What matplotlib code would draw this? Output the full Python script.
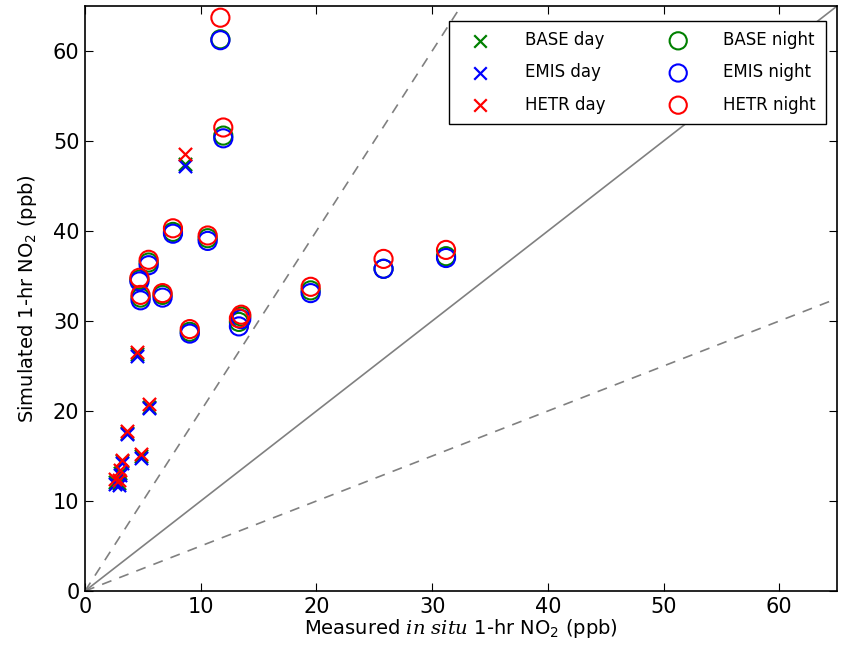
import matplotlib
matplotlib.use("Agg")
import matplotlib.pyplot as plt
import numpy as np

plt.rcParams["mathtext.fontset"] = "custom"
plt.rcParams["mathtext.rm"] = "DejaVu Sans"
plt.rcParams["mathtext.it"] = "DejaVu Serif:italic"

# ---- daytime 1-hr NO2 (ppb) ----
day_x = [2.6, 2.9, 3.0, 3.2, 3.6, 4.5, 4.8, 5.5, 8.6]
day_base = [12.1, 12.0, 13.1, 14.4, 17.6, 26.3, 15.0, 20.5, 47.5]
day_emis = [11.9, 11.8, 12.9, 14.2, 17.4, 26.1, 14.8, 20.3, 47.2]
day_hetr = [12.4, 12.3, 13.4, 14.6, 17.8, 26.6, 15.2, 20.8, 48.6]

# ---- nighttime 1-hr NO2 (ppb) ----
night_x = [4.7, 4.8, 5.5, 6.7, 7.6, 9.05, 10.6, 11.7, 11.95, 13.5, 13.3, 19.5, 25.8, 31.2]
night_base = [34.6, 32.6, 36.5, 32.9, 39.9, 28.8, 39.2, 61.3, 50.6, 30.5, 29.9, 33.4, 35.8, 37.2]
night_emis = [34.4, 32.3, 36.2, 32.6, 39.7, 28.6, 38.9, 61.2, 50.3, 30.2, 29.4, 33.1, 35.8, 37.0]
night_hetr = [34.8, 32.9, 36.8, 33.1, 40.3, 29.1, 39.5, 63.7, 51.5, 30.7, 30.3, 33.8, 36.9, 37.9]

fig = plt.figure(figsize=(8.46, 6.45), dpi=100)
ax = fig.add_axes([0.1005, 0.0837, 0.889, 0.907])

# reference lines: 1:1 and factor-of-2
ref = np.array([0, 65])
ax.plot(ref, ref, "-", color="gray", lw=1.2)
ax.plot(ref, 2 * ref, "--", color="gray", lw=1.2, dashes=(6, 5))
ax.plot(ref, 0.5 * ref, "--", color="gray", lw=1.2, dashes=(6, 5))

ax.scatter(day_x, day_base, marker="x", s=90, c="green", lw=1.6, label="BASE day", zorder=3)
ax.scatter(day_x, day_emis, marker="x", s=90, c="blue", lw=1.6, label="EMIS day", zorder=3)
ax.scatter(day_x, day_hetr, marker="x", s=90, c="red", lw=1.6, label="HETR day", zorder=3)
ax.scatter(night_x, night_base, marker="o", s=170, facecolors="none", edgecolors="green", lw=1.5,
           label="BASE night", zorder=3)
ax.scatter(night_x, night_emis, marker="o", s=170, facecolors="none", edgecolors="blue", lw=1.5,
           label="EMIS night", zorder=3)
ax.scatter(night_x, night_hetr, marker="o", s=170, facecolors="none", edgecolors="red", lw=1.5,
           label="HETR night", zorder=3)

ax.set_xlim(0, 65)
ax.set_ylim(0, 65)
ax.set_xticks(range(0, 61, 10))
ax.set_yticks(range(0, 61, 10))
ax.tick_params(direction="in", length=6, top=True, right=True, labelsize=15, pad=4)
for s in ax.spines.values():
    s.set_linewidth(1.2)

ax.set_xlabel("Measured $\\mathit{in\\ situ}$ 1-hr NO$_2$ (ppb)", fontsize=14, labelpad=0)
ax.set_ylabel("Simulated 1-hr NO$_2$ (ppb)", fontsize=14, labelpad=10)

leg = ax.legend(ncol=2, loc="upper right", fontsize=12, scatterpoints=1, fancybox=False,
                framealpha=1, edgecolor="black", handlelength=2.5, handletextpad=1.45,
                columnspacing=3.1, borderpad=0.6, labelspacing=0.85, markerscale=0.95,
                borderaxespad=0, bbox_to_anchor=(0.985, 0.974))
leg.get_frame().set_linewidth(1.0)

fig.savefig("out.png", dpi=100)
